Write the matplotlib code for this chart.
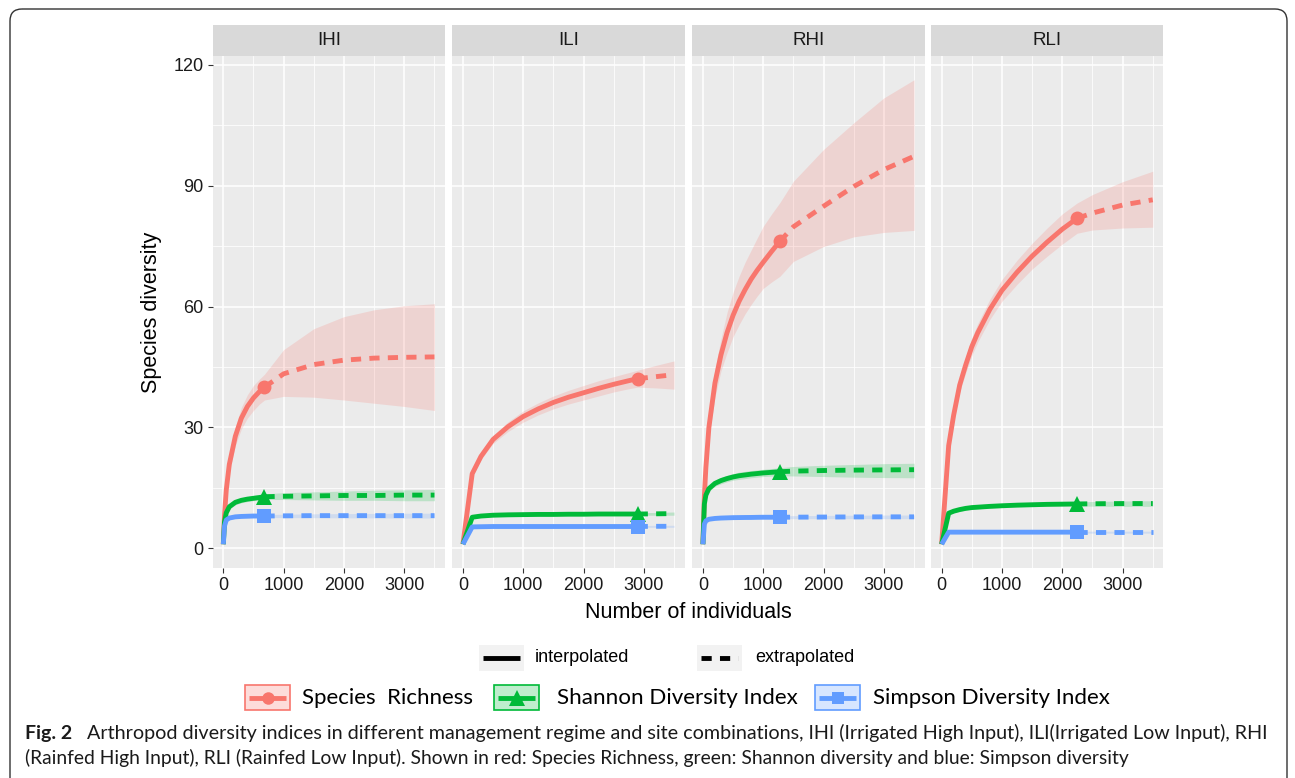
import numpy as np
import matplotlib.pyplot as plt
from matplotlib.patches import FancyBboxPatch, Rectangle

plt.rcParams['font.family'] = ['Liberation Sans', 'DejaVu Sans']

# ---- data ----
sites = ["IHI", "ILI", "RHI", "RLI"]
indices = ["Species  Richness", "Shannon Diversity Index", "Simpson Diversity Index"]
colors = ["#F8766D", "#00BA38", "#619CFF"]
markers = ["o", "^", "s"]

# IHI
ihi_n = 683
ihi_x = [1, 20, 50, 100, 200, 300, 400, 500, 600, 683, 1000, 1500, 2000, 2500, 3000, 3500]
ihi_rich = [1, 8, 14.5, 20.8, 27.8, 32.3, 35.2, 37.3, 38.9, 40.0, 43.3, 45.6, 46.7, 47.2, 47.4, 47.5]
ihi_rich_lo = [1, 7.3, 13.2, 19.0, 25.5, 29.6, 32.3, 34.2, 35.8, 36.8, 37.7, 37.5, 36.8, 36.0, 35.2, 34.2]
ihi_rich_hi = [1, 8.7, 15.8, 22.6, 30.1, 35.0, 38.1, 40.4, 42.0, 43.2, 49.3, 54.5, 57.5, 59.2, 60.2, 60.7]
ihi_shan = [1, 6.5, 8.8, 10.3, 11.4, 11.9, 12.2, 12.4, 12.6, 12.8, 12.9, 13.0, 13.1, 13.1, 13.2, 13.2]
ihi_shan_lo = [1, 6.0, 8.2, 9.7, 10.8, 11.3, 11.6, 11.8, 12.0, 12.1, 12.1, 12.0, 11.9, 11.9, 11.8, 11.8]
ihi_shan_hi = [1, 7.0, 9.4, 10.9, 12.0, 12.5, 12.8, 13.1, 13.3, 13.5, 13.8, 14.0, 14.2, 14.4, 14.5, 14.6]
ihi_simp = [1, 5.5, 7.0, 7.5, 7.8, 7.9, 7.95, 8.0, 8.0, 8.0, 8.05, 8.1, 8.1, 8.1, 8.1, 8.1]
ihi_simp_lo = [1, 5.2, 6.7, 7.2, 7.5, 7.6, 7.6, 7.65, 7.65, 7.65, 7.6, 7.6, 7.55, 7.55, 7.5, 7.5]
ihi_simp_hi = [1, 5.8, 7.3, 7.8, 8.1, 8.2, 8.3, 8.35, 8.35, 8.35, 8.45, 8.55, 8.6, 8.65, 8.7, 8.7]

# ILI
ili_n = 2897
ili_x = [1, 155, 300, 500, 750, 1000, 1250, 1500, 1750, 2000, 2250, 2500, 2750, 2897, 3200, 3500]
ili_rich = [1, 18.5, 22.8, 27.0, 30.2, 32.7, 34.6, 36.2, 37.5, 38.6, 39.7, 40.7, 41.6, 42.1, 42.6, 43.1]
ili_rich_lo = [1, 17.9, 22.0, 26.0, 29.0, 31.3, 33.1, 34.6, 35.8, 36.8, 37.8, 38.8, 39.6, 40.0, 39.8, 39.5]
ili_rich_hi = [1, 19.1, 23.6, 28.0, 31.4, 34.1, 36.1, 37.8, 39.2, 40.4, 41.6, 42.6, 43.6, 44.2, 45.4, 46.5]
ili_shan = [1, 7.7, 8.0, 8.2, 8.3, 8.35, 8.4, 8.4, 8.45, 8.45, 8.5, 8.5, 8.5, 8.5, 8.55, 8.6]
ili_shan_lo = [1, 7.4, 7.7, 7.9, 8.0, 8.05, 8.1, 8.1, 8.15, 8.15, 8.2, 8.2, 8.2, 8.2, 8.2, 8.2]
ili_shan_hi = [1, 8.0, 8.3, 8.5, 8.6, 8.65, 8.7, 8.7, 8.75, 8.75, 8.8, 8.8, 8.8, 8.8, 8.9, 9.0]
ili_simp = [1, 5.3, 5.35, 5.4, 5.4, 5.4, 5.4, 5.4, 5.4, 5.4, 5.4, 5.4, 5.4, 5.4, 5.45, 5.45]
ili_simp_lo = [1, 5.1, 5.15, 5.2, 5.2, 5.2, 5.2, 5.2, 5.2, 5.2, 5.2, 5.2, 5.2, 5.2, 5.2, 5.2]
ili_simp_hi = [1, 5.5, 5.55, 5.6, 5.6, 5.6, 5.6, 5.6, 5.6, 5.6, 5.6, 5.6, 5.6, 5.6, 5.7, 5.7]

# RHI
rhi_n = 1276
rhi_x = [1, 25, 50, 100, 200, 300, 400, 500, 600, 700, 800, 900, 1000, 1140, 1276, 1500, 2000, 2500, 3000, 3500]
rhi_rich = [1, 13, 20, 30, 41, 48, 53.5, 57.8, 61.3, 64.2, 66.8, 69.0, 71.0, 73.7, 76.2, 79.8, 84.9, 89.8, 94, 97.3]
rhi_rich_lo = [1, 12, 18.5, 27.5, 37.5, 44, 48.5, 52.5, 55.5, 58.2, 60.5, 62.6, 64.5, 66.1, 67.5, 71.2, 74.9, 77.3, 78.4, 78.9]
rhi_rich_hi = [1, 14, 21.5, 32.5, 44.5, 52, 58.5, 63.5, 67.5, 71.0, 74, 77.0, 79.9, 83.0, 85.8, 91.1, 99, 105.6, 111.8, 116.3]
rhi_shan = [1, 11, 13.2, 14.8, 16.1, 16.8, 17.3, 17.7, 18.0, 18.2, 18.4, 18.55, 18.7, 18.85, 19.0, 19.15, 19.3, 19.4, 19.45, 19.5]
rhi_shan_lo = [1, 10.5, 12.6, 14.1, 15.4, 16.0, 16.5, 16.9, 17.1, 17.3, 17.5, 17.65, 17.8, 17.9, 18.0, 17.95, 17.8, 17.65, 17.55, 17.5]
rhi_shan_hi = [1, 11.5, 13.8, 15.5, 16.8, 17.6, 18.1, 18.5, 18.9, 19.1, 19.3, 19.45, 19.6, 19.8, 20.0, 20.3, 20.6, 20.8, 21.0, 21.1]
rhi_simp = [1, 6.0, 6.8, 7.2, 7.4, 7.5, 7.55, 7.6, 7.62, 7.64, 7.65, 7.68, 7.7, 7.7, 7.7, 7.72, 7.75, 7.78, 7.8, 7.8]
rhi_simp_lo = [1, 5.7, 6.5, 6.9, 7.1, 7.2, 7.25, 7.3, 7.3, 7.3, 7.3, 7.32, 7.35, 7.35, 7.35, 7.35, 7.35, 7.35, 7.35, 7.35]
rhi_simp_hi = [1, 6.3, 7.1, 7.5, 7.7, 7.8, 7.85, 7.9, 7.95, 7.98, 8.0, 8.02, 8.05, 8.05, 8.05, 8.1, 8.15, 8.2, 8.25, 8.25]

# RLI
rli_n = 2246
rli_x = [1, 118, 200, 300, 400, 500, 600, 800, 1000, 1250, 1500, 1750, 2000, 2246, 2500, 3000, 3500]
rli_rich = [1, 25.5, 33, 40.5, 45.5, 50, 53.5, 59.3, 64, 68.5, 72.5, 76, 79.2, 81.9, 83.2, 85.2, 86.5]
rli_rich_lo = [1, 24.8, 31.8, 38.8, 43.5, 47.8, 51.2, 56.8, 61.3, 65.5, 69.3, 72.5, 75.5, 78.2, 79.0, 79.5, 79.7]
rli_rich_hi = [1, 26.2, 34.2, 42.2, 47.5, 52.2, 55.8, 61.8, 66.7, 71.5, 75.7, 79.5, 83.0, 85.7, 87.8, 91.0, 93.6]
rli_shan = [1, 8.7, 9.2, 9.6, 9.9, 10.1, 10.2, 10.4, 10.55, 10.7, 10.8, 10.9, 10.95, 11.0, 11.05, 11.1, 11.1]
rli_shan_lo = [1, 8.3, 8.8, 9.2, 9.5, 9.7, 9.8, 10.0, 10.15, 10.3, 10.4, 10.45, 10.5, 10.5, 10.45, 10.4, 10.4]
rli_shan_hi = [1, 9.1, 9.6, 10.0, 10.3, 10.5, 10.6, 10.8, 10.95, 11.1, 11.2, 11.35, 11.4, 11.5, 11.6, 11.75, 11.8]
rli_simp = [1, 4.0, 4.0, 4.0, 4.0, 4.0, 4.0, 4.0, 4.0, 4.0, 4.0, 4.0, 4.0, 4.0, 4.0, 4.0, 4.0]
rli_simp_lo = [1, 3.8, 3.8, 3.8, 3.8, 3.8, 3.8, 3.8, 3.8, 3.8, 3.8, 3.8, 3.8, 3.8, 3.75, 3.75, 3.75]
rli_simp_hi = [1, 4.2, 4.2, 4.2, 4.2, 4.2, 4.2, 4.2, 4.2, 4.2, 4.2, 4.2, 4.2, 4.2, 4.25, 4.25, 4.25]

data = {
    "IHI": (ihi_n, ihi_x, [(ihi_rich, ihi_rich_lo, ihi_rich_hi), (ihi_shan, ihi_shan_lo, ihi_shan_hi), (ihi_simp, ihi_simp_lo, ihi_simp_hi)]),
    "ILI": (ili_n, ili_x, [(ili_rich, ili_rich_lo, ili_rich_hi), (ili_shan, ili_shan_lo, ili_shan_hi), (ili_simp, ili_simp_lo, ili_simp_hi)]),
    "RHI": (rhi_n, rhi_x, [(rhi_rich, rhi_rich_lo, rhi_rich_hi), (rhi_shan, rhi_shan_lo, rhi_shan_hi), (rhi_simp, rhi_simp_lo, rhi_simp_hi)]),
    "RLI": (rli_n, rli_x, [(rli_rich, rli_rich_lo, rli_rich_hi), (rli_shan, rli_shan_lo, rli_shan_hi), (rli_simp, rli_simp_lo, rli_simp_hi)]),
}

caption_1 = "Arthropod diversity indices in different management regime and site combinations, IHI (Irrigated High Input), ILI(Irrigated Low Input), RHI"
caption_2 = "(Rainfed High Input), RLI (Rainfed Low Input). Shown in red: Species Richness, green: Shannon diversity and blue: Simpson diversity"

# ---- layout (pixels) ----
W, H = 1295, 778
fig = plt.figure(figsize=(W / 100, H / 100), dpi=100)


def px_box(l, t, r, b):
    return [l / W, 1 - b / H, (r - l) / W, (b - t) / H]


panel_left = [212.7, 452.3, 692.3, 931.0]
panel_w = 232.3
LW = 3.5
DASH = (2.1, 1.7)
msizes = [10, 12, 10]

for i, site in enumerate(sites):
    l = panel_left[i]
    ax = fig.add_axes(px_box(l, 56, l + panel_w, 568))
    sax = fig.add_axes(px_box(l, 25, l + panel_w, 56))

    n_obs, x, series = data[site]
    x = np.array(x, dtype=float)
    k = int(np.where(x == n_obs)[0][0])
    for j, (y, lo, hi) in enumerate(series):
        ax.fill_between(x, lo, hi, color=colors[j], alpha=0.2, lw=0, zorder=2)
    for j, (y, lo, hi) in enumerate(series):
        c = colors[j]
        y = np.array(y)
        ax.plot(x[:k + 1], y[:k + 1], color=c, lw=LW, solid_capstyle='butt',
                solid_joinstyle='round', zorder=3)
        ax.plot(x[k:], y[k:], color=c, lw=LW, dashes=DASH, zorder=3)
        ax.plot([x[k]], [y[k]], marker=markers[j], color=c, ms=msizes[j], mew=0, ls='none', zorder=4)

    ax.set_xlim(-175, 3675)
    ax.set_ylim(-4.9, 122.2)
    ax.set_facecolor('#EBEBEB')
    for s in ax.spines.values():
        s.set_visible(False)
    ax.set_xticks([0, 1000, 2000, 3000])
    ax.set_xticks([500, 1500, 2500, 3500], minor=True)
    ax.set_yticks([0, 30, 60, 90, 120])
    ax.set_yticks([15, 45, 75, 105], minor=True)
    ax.grid(True, which='major', color='white', lw=1.1, zorder=0)
    ax.grid(True, which='minor', color='white', lw=0.55, zorder=0)
    ax.set_axisbelow(True)
    ax.tick_params(which='minor', length=0)
    ax.tick_params(which='major', length=3.5, width=0.8, color='#333333',
                   labelsize=13, labelcolor='#1A1A1A', pad=3)
    if i > 0:
        ax.tick_params(axis='y', left=False, labelleft=False)

    sax.set_facecolor('#D9D9D9')
    sax.set_xticks([])
    sax.set_yticks([])
    for s in sax.spines.values():
        s.set_visible(False)
    sax.text(0.5, 0.5, site, ha='center', va='center', fontsize=13.5, color='#1A1A1A',
             transform=sax.transAxes)

# ---- overlay for titles, legends, caption and border ----
ov = fig.add_axes([0, 0, 1, 1], zorder=10)
ov.set_xlim(0, W)
ov.set_ylim(H, 0)
ov.axis('off')
ov.patch.set_alpha(0)

ov.add_patch(FancyBboxPatch((10, 9), 1277, 785, boxstyle="round,pad=0,rounding_size=12",
                            fill=False, ec='#333333', lw=1.0, clip_on=False))

ov.text(152, 312, "Species diversity", rotation=90, ha='center', va='center', fontsize=15.5)
ov.text(688, 612, "Number of individuals", ha='center', va='center', fontsize=15.5)

renderer = fig.canvas.get_renderer()


def fit_text(x, y, s, width, size, **kw):
    t = ov.text(x, y, s, fontsize=size, **kw)
    w = t.get_window_extent(renderer).width
    t.set_fontsize(size * width / w)
    return t


# linetype legend
for kx, lab, tx, dashed in [(479, "interpolated", 535, False), (697, "extrapolated", 755, True)]:
    ov.add_patch(Rectangle((kx, 645), 45, 26, fc='#F2F2F2', ec='none'))
    if dashed:
        ov.plot([kx + 4, kx + 41], [658, 658], color='black', lw=LW, dashes=DASH)
    else:
        ov.plot([kx + 4, kx + 41], [658, 658], color='black', lw=LW, solid_capstyle='butt')
    ov.text(tx, 658, lab, ha='left', va='center', fontsize=13)

# colour legend
key_x = [245, 494, 815]
text_x = [302, 557, 873]
text_w = [171, 241, 237]
for j in range(3):
    kx = key_x[j]
    ov.add_patch(Rectangle((kx, 685), 45, 25, fc=colors[j], alpha=0.25, ec='none'))
    ov.add_patch(Rectangle((kx, 685), 45, 25, fill=False, ec=colors[j], lw=1.2))
    ov.plot([kx + 4, kx + 41], [697.5, 697.5], color=colors[j], lw=LW, solid_capstyle='butt')
    ov.plot([kx + 22.5], [697.5], marker=markers[j], color=colors[j], ms=msizes[j] - 1, mew=0)
    fit_text(text_x[j], 697.5, indices[j], text_w[j], 16, ha='left', va='center',
             family=['Lato', 'DejaVu Sans'], color='black')

# caption
ov.text(25, 733, "Fig. 2", ha='left', va='center', fontsize=14, fontweight='bold',
        family=['Lato', 'DejaVu Sans'], color='#1A1A1A')
fit_text(87, 733, caption_1, 1275 - 87, 13.5, ha='left', va='center',
         family=['Lato', 'DejaVu Sans'], color='#1A1A1A')
fit_text(25, 758, caption_2, 1133 - 25, 13.5, ha='left', va='center',
         family=['Lato', 'DejaVu Sans'], color='#1A1A1A')

fig.savefig("out.png", dpi=100)
